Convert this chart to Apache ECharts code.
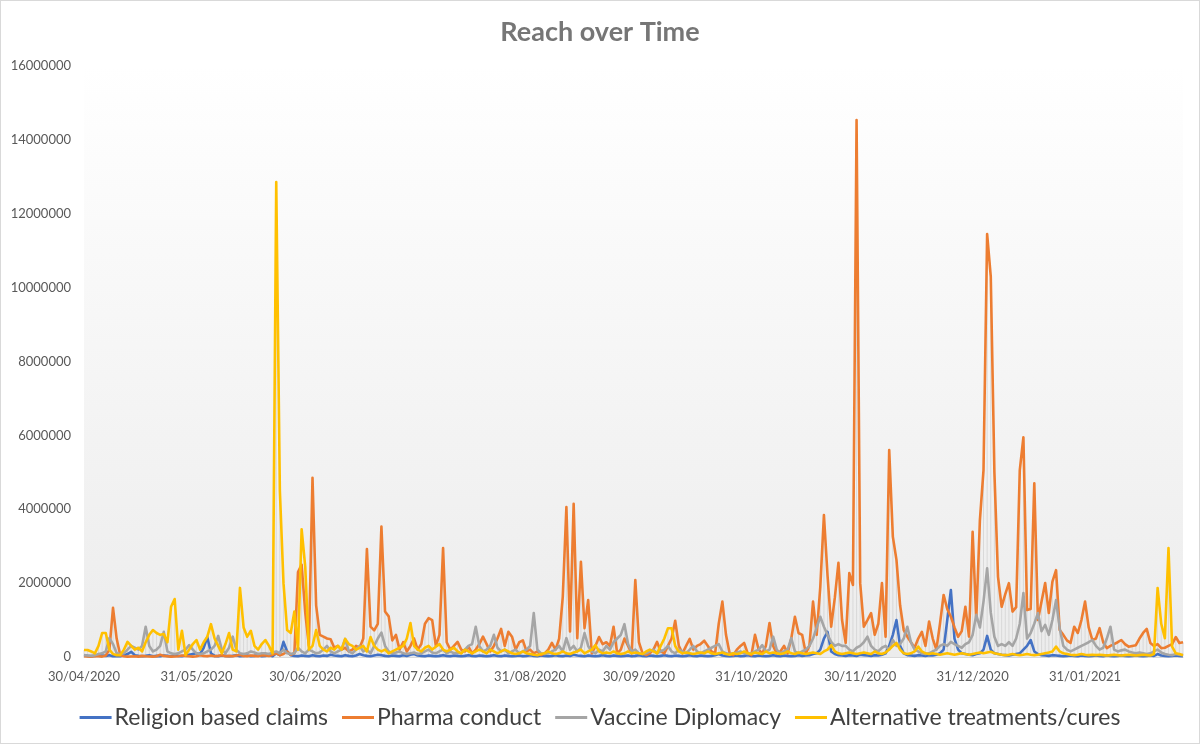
<!DOCTYPE html>
<html>
<head>
<meta charset="utf-8">
<title>Reach over Time</title>
<script src="https://cdn.jsdelivr.net/npm/echarts@6/dist/echarts.min.js"></script>
<style>
  html, body { margin: 0; padding: 0; background: #fff; }
  #chart { width: 1198px; height: 742px; border: 1px solid #d9d9d9; }
</style>
</head>
<body>
<div id="chart"></div>
<script>
// daily points, 30/04/2020 .. 27/02/2021
const dayCount = 304;
const tickLabels = ['30/04/2020', '31/05/2020', '30/06/2020', '31/07/2020', '31/08/2020',
  '30/09/2020', '31/10/2020', '30/11/2020', '31/12/2020', '31/01/2021'];

const religion = [
  50000, 30000, 20000, 30000, 50000, 40000, 30000, 50000, 20000, 30000,
  20000, 50000, 80000, 140000, 50000, 30000, 20000, 30000, 50000, 20000,
  30000, 20000, 40000, 30000, 20000, 50000, 30000, 20000, 40000, 60000,
  80000, 100000, 80000, 250000, 540000, 100000, 30000, 20000, 40000, 30000,
  20000, 30000, 50000, 20000, 30000, 40000, 20000, 30000, 50000, 20000,
  30000, 50000, 20000, 100000, 50000, 410000, 150000, 50000, 30000, 20000,
  40000, 30000, 20000, 50000, 30000, 20000, 40000, 30000, 60000, 40000,
  30000, 20000, 50000, 30000, 20000, 40000, 80000, 50000, 30000, 20000,
  40000, 60000, 50000, 30000, 20000, 40000, 30000, 20000, 50000, 30000,
  60000, 80000, 40000, 30000, 20000, 40000, 30000, 20000, 30000, 50000,
  30000, 20000, 40000, 30000, 20000, 30000, 50000, 30000, 20000, 40000,
  30000, 20000, 30000, 50000, 30000, 20000, 40000, 30000, 20000, 30000,
  40000, 20000, 30000, 50000, 30000, 20000, 40000, 30000, 20000, 30000,
  50000, 30000, 20000, 40000, 30000, 60000, 40000, 30000, 20000, 40000,
  30000, 20000, 30000, 50000, 30000, 20000, 40000, 30000, 20000, 30000,
  40000, 20000, 30000, 50000, 30000, 20000, 40000, 30000, 20000, 30000,
  50000, 30000, 20000, 40000, 30000, 20000, 30000, 50000, 30000, 20000,
  40000, 30000, 20000, 30000, 50000, 80000, 40000, 30000, 20000, 30000,
  40000, 20000, 30000, 50000, 30000, 20000, 40000, 30000, 20000, 30000,
  50000, 30000, 20000, 40000, 30000, 20000, 30000, 50000, 30000, 40000,
  50000, 80000, 100000, 200000, 500000, 680000, 150000, 80000, 50000, 40000,
  30000, 50000, 40000, 30000, 60000, 50000, 40000, 30000, 50000, 40000,
  60000, 100000, 300000, 600000, 1000000, 300000, 100000, 50000, 40000, 30000,
  50000, 40000, 30000, 50000, 40000, 60000, 100000, 200000, 1000000, 1810000,
  500000, 200000, 100000, 80000, 60000, 50000, 80000, 100000, 200000, 570000,
  200000, 100000, 80000, 60000, 50000, 40000, 60000, 80000, 100000, 200000,
  300000, 460000, 150000, 80000, 50000, 40000, 30000, 50000, 40000, 30000,
  20000, 30000, 40000, 30000, 20000, 40000, 30000, 20000, 30000, 40000,
  30000, 20000, 40000, 30000, 20000, 30000, 40000, 30000, 20000, 30000,
  40000, 30000, 20000, 30000, 40000, 30000, 80000, 40000, 30000, 20000,
  30000, 40000, 30000, 20000
];

const pharma = [
  20000, 15000, 10000, 30000, 20000, 10000, 40000, 200000, 1330000, 500000,
  50000, 20000, 10000, 15000, 20000, 10000, 30000, 20000, 15000, 10000,
  20000, 60000, 30000, 20000, 10000, 15000, 20000, 40000, 30000, 20000,
  10000, 20000, 50000, 30000, 20000, 40000, 20000, 30000, 50000, 20000,
  30000, 20000, 40000, 60000, 30000, 20000, 40000, 30000, 20000, 50000,
  40000, 30000, 60000, 100000, 50000, 80000, 150000, 60000, 100000, 2300000,
  2500000, 1200000, 300000, 4850000, 1400000, 600000, 550000, 500000, 480000, 250000,
  300000, 200000, 250000, 150000, 200000, 300000, 250000, 500000, 2920000, 820000,
  720000, 900000, 3530000, 1230000, 1100000, 450000, 600000, 200000, 400000, 150000,
  300000, 500000, 200000, 350000, 900000, 1050000, 1000000, 300000, 600000, 2950000,
  400000, 200000, 300000, 410000, 200000, 150000, 280000, 100000, 200000, 350000,
  550000, 350000, 150000, 300000, 500000, 760000, 300000, 680000, 550000, 200000,
  400000, 450000, 150000, 200000, 100000, 150000, 50000, 100000, 200000, 380000,
  200000, 500000, 1630000, 4060000, 690000, 4150000, 510000, 2580000, 780000, 1540000,
  100000, 300000, 540000, 350000, 400000, 300000, 820000, 100000, 200000, 500000,
  300000, 100000, 2080000, 400000, 100000, 50000, 100000, 200000, 410000, 150000,
  100000, 300000, 500000, 980000, 300000, 100000, 300000, 490000, 200000, 300000,
  350000, 440000, 300000, 150000, 100000, 900000, 1500000, 600000, 100000, 50000,
  200000, 300000, 380000, 100000, 50000, 600000, 200000, 100000, 300000, 920000,
  300000, 100000, 150000, 300000, 100000, 500000, 1090000, 650000, 600000, 100000,
  300000, 1500000, 600000, 1900000, 3840000, 2200000, 820000, 1600000, 2550000, 1000000,
  380000, 2270000, 1950000, 14540000, 2000000, 820000, 1000000, 1190000, 600000, 900000,
  2000000, 550000, 5600000, 3260000, 2630000, 1400000, 730000, 550000, 400000, 250000,
  500000, 680000, 300000, 960000, 500000, 200000, 900000, 1680000, 1300000, 1090000,
  800000, 550000, 700000, 1360000, 550000, 3390000, 1000000, 3700000, 5060000, 11450000,
  10300000, 5000000, 2170000, 1360000, 1700000, 2000000, 1230000, 1350000, 5060000, 5950000,
  1270000, 1300000, 4700000, 1000000, 1500000, 2000000, 1190000, 2040000, 2350000, 730000,
  600000, 450000, 380000, 820000, 650000, 1000000, 1500000, 800000, 460000, 500000,
  780000, 400000, 240000, 300000, 350000, 400000, 460000, 350000, 280000, 300000,
  320000, 500000, 650000, 760000, 380000, 300000, 350000, 240000, 250000, 300000,
  350000, 540000, 380000, 400000
];

const vaccine = [
  50000, 40000, 30000, 50000, 80000, 100000, 150000, 510000, 350000, 100000,
  80000, 100000, 200000, 300000, 250000, 200000, 300000, 820000, 300000, 150000,
  200000, 300000, 680000, 150000, 100000, 80000, 100000, 150000, 200000, 320000,
  200000, 100000, 80000, 100000, 150000, 200000, 300000, 570000, 200000, 100000,
  250000, 550000, 200000, 100000, 80000, 100000, 150000, 120000, 80000, 100000,
  100000, 80000, 120000, 150000, 100000, 200000, 100000, 80000, 100000, 250000,
  150000, 100000, 200000, 150000, 100000, 120000, 200000, 300000, 150000, 100000,
  150000, 200000, 490000, 150000, 100000, 200000, 300000, 150000, 200000, 100000,
  300000, 500000, 660000, 300000, 150000, 100000, 120000, 150000, 100000, 80000,
  100000, 120000, 80000, 100000, 150000, 200000, 120000, 100000, 150000, 200000,
  100000, 150000, 100000, 120000, 100000, 200000, 300000, 350000, 820000, 300000,
  150000, 200000, 300000, 600000, 250000, 150000, 200000, 100000, 150000, 200000,
  100000, 150000, 200000, 300000, 1190000, 200000, 100000, 80000, 100000, 150000,
  200000, 300000, 150000, 510000, 200000, 300000, 150000, 250000, 650000, 300000,
  150000, 100000, 200000, 150000, 300000, 200000, 400000, 500000, 600000, 890000,
  350000, 150000, 200000, 100000, 80000, 100000, 150000, 200000, 100000, 150000,
  200000, 300000, 150000, 100000, 200000, 150000, 100000, 200000, 300000, 150000,
  100000, 150000, 200000, 250000, 300000, 350000, 150000, 100000, 80000, 100000,
  120000, 150000, 100000, 80000, 100000, 150000, 200000, 320000, 150000, 200000,
  550000, 200000, 100000, 150000, 200000, 510000, 150000, 100000, 150000, 200000,
  300000, 500000, 800000, 1090000, 820000, 600000, 410000, 300000, 350000, 300000,
  300000, 200000, 150000, 250000, 300000, 400000, 550000, 300000, 200000, 150000,
  250000, 300000, 200000, 460000, 300000, 350000, 500000, 820000, 400000, 200000,
  150000, 100000, 80000, 100000, 150000, 200000, 300000, 350000, 300000, 410000,
  350000, 300000, 250000, 350000, 400000, 600000, 1140000, 800000, 1500000, 2400000,
  1200000, 550000, 300000, 350000, 300000, 400000, 300000, 500000, 900000, 1730000,
  500000, 650000, 900000, 1190000, 700000, 870000, 600000, 1000000, 1540000, 780000,
  300000, 200000, 150000, 200000, 250000, 300000, 350000, 400000, 460000, 300000,
  200000, 250000, 500000, 820000, 200000, 150000, 180000, 200000, 150000, 120000,
  100000, 120000, 100000, 80000, 100000, 150000, 200000, 120000, 80000, 60000,
  50000, 80000, 60000, 50000
];

const alternative = [
  190000, 190000, 150000, 100000, 300000, 650000, 650000, 200000, 80000, 50000,
  50000, 200000, 410000, 300000, 200000, 250000, 150000, 400000, 600000, 730000,
  650000, 600000, 620000, 400000, 1360000, 1570000, 200000, 710000, 50000, 200000,
  350000, 460000, 200000, 400000, 550000, 890000, 500000, 300000, 100000, 350000,
  650000, 200000, 150000, 1870000, 800000, 550000, 710000, 300000, 200000, 350000,
  460000, 300000, 100000, 12860000, 4500000, 2000000, 730000, 650000, 1230000, 200000,
  3460000, 2440000, 200000, 300000, 730000, 300000, 200000, 150000, 250000, 200000,
  300000, 200000, 490000, 350000, 300000, 200000, 250000, 300000, 150000, 540000,
  300000, 200000, 150000, 200000, 100000, 150000, 200000, 250000, 300000, 500000,
  920000, 300000, 200000, 150000, 250000, 300000, 200000, 280000, 350000, 200000,
  150000, 200000, 250000, 150000, 100000, 200000, 150000, 100000, 150000, 200000,
  150000, 100000, 200000, 150000, 100000, 150000, 200000, 150000, 100000, 80000,
  100000, 150000, 100000, 80000, 60000, 50000, 80000, 100000, 150000, 100000,
  80000, 100000, 150000, 100000, 80000, 120000, 150000, 200000, 100000, 150000,
  200000, 320000, 150000, 100000, 120000, 100000, 150000, 100000, 80000, 100000,
  150000, 100000, 120000, 100000, 80000, 150000, 200000, 150000, 100000, 300000,
  500000, 780000, 780000, 300000, 150000, 100000, 120000, 100000, 80000, 100000,
  120000, 100000, 150000, 100000, 80000, 100000, 120000, 80000, 60000, 100000,
  80000, 100000, 150000, 100000, 80000, 120000, 100000, 80000, 150000, 100000,
  120000, 100000, 80000, 100000, 150000, 100000, 80000, 120000, 100000, 80000,
  100000, 120000, 100000, 80000, 150000, 200000, 320000, 150000, 100000, 80000,
  100000, 120000, 100000, 80000, 100000, 120000, 100000, 80000, 150000, 100000,
  80000, 120000, 200000, 300000, 380000, 200000, 100000, 80000, 100000, 150000,
  280000, 150000, 100000, 80000, 100000, 80000, 60000, 80000, 100000, 80000,
  60000, 80000, 100000, 80000, 60000, 80000, 100000, 120000, 100000, 120000,
  140000, 100000, 80000, 60000, 50000, 60000, 80000, 60000, 50000, 60000,
  80000, 60000, 50000, 60000, 80000, 100000, 120000, 150000, 280000, 150000,
  100000, 80000, 60000, 50000, 60000, 80000, 60000, 50000, 60000, 50000,
  60000, 50000, 40000, 50000, 60000, 50000, 40000, 50000, 60000, 50000,
  40000, 50000, 60000, 50000, 40000, 80000, 1870000, 900000, 510000, 2950000,
  280000, 100000, 80000, 50000
];

const seriesNames = ['Religion based claims', 'Pharma conduct', 'Vaccine Diplomacy', 'Alternative treatments/cures'];
const seriesColors = ['#4472C4', '#ED7D31', '#A5A5A5', '#FFC000'];
const seriesValues = [religion, pharma, vaccine, alternative];

// category labels dd/mm/yyyy
const dates = [];
for (let i = 0; i < dayCount; i++) {
  const d = new Date(Date.UTC(2020, 3, 30 + i));
  const dd = String(d.getUTCDate()).padStart(2, '0');
  const mm = String(d.getUTCMonth() + 1).padStart(2, '0');
  dates.push(`${dd}/${mm}/${d.getUTCFullYear()}`);
}

// high-low lines between the series on every day
const highLow = dates.map((d, i) => {
  const vals = seriesValues.map((s) => s[i]);
  return [i, Math.min(...vals), Math.max(...vals)];
});

const font = 'Lato, "Open Sans", sans-serif';
const myChart = echarts.init(document.getElementById('chart'), null, { renderer: 'canvas' });

const option = {
  animation: false,
  backgroundColor: '#ffffff',
  textStyle: { fontFamily: font },
  title: {
    text: 'Reach over Time',
    left: 'center',
    top: 13,
    textStyle: { fontSize: 27, fontWeight: 'bold', color: '#767676', fontFamily: font },
  },
  legend: {
    data: seriesNames,
    left: 'center',
    top: 700,
    icon: 'rect',
    itemWidth: 32,
    itemHeight: 3,
    itemGap: 14,
    textStyle: { fontSize: 23, color: '#404040', fontFamily: font, padding: [0, 0, 0, -2] },
  },
  grid: {
    left: 83,
    right: 16,
    top: 65,
    bottom: 86,
    show: true,
    borderWidth: 0,
    backgroundColor: new echarts.graphic.LinearGradient(0, 0, 0, 1, [
      { offset: 0, color: '#ffffff' },
      { offset: 1, color: '#ececec' },
    ]),
  },
  xAxis: {
    type: 'category',
    data: dates,
    boundaryGap: false,
    axisTick: { show: false },
    axisLine: { show: true, lineStyle: { color: '#d9d9d9', width: 1 } },
    axisLabel: {
      interval: (index, value) => tickLabels.includes(value),
      color: '#595959',
      fontSize: 13,
      margin: 13,
      fontFamily: font,
    },
    splitLine: { show: false },
  },
  yAxis: {
    type: 'value',
    min: 0,
    max: 16000000,
    interval: 2000000,
    axisLine: { show: false },
    axisTick: { show: false },
    splitLine: { show: false },
    axisLabel: {
      color: '#595959',
      fontSize: 13,
      margin: 13,
      fontFamily: font,
      formatter: (v) => String(v),
    },
  },
  series: [
    {
      name: 'highlow',
      type: 'custom',
      silent: true,
      z: 1,
      data: highLow,
      encode: { x: 0, y: [1, 2] },
      renderItem: (params, api) => {
        const lo = api.coord([api.value(0), api.value(1)]);
        const hi = api.coord([api.value(0), api.value(2)]);
        return {
          type: 'line',
          shape: { x1: lo[0], y1: lo[1], x2: hi[0], y2: hi[1] },
          style: { stroke: '#d3d3d3', lineWidth: 0.8 },
        };
      },
    },
    ...seriesNames.map((name, k) => ({
      name,
      type: 'line',
      data: seriesValues[k],
      showSymbol: false,
      symbol: 'none',
      z: 2 + k,
      color: seriesColors[k],
      lineStyle: { width: 2.6, color: seriesColors[k], join: 'round' },
    })),
  ],
};
myChart.setOption(option);
</script>
</body>
</html>
